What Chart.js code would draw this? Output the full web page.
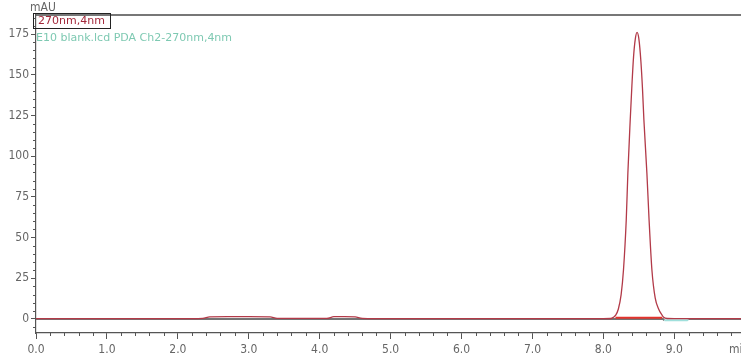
<!DOCTYPE html>
<html>
<head>
<meta charset="utf-8">
<title>PDA Ch2 270nm</title>
<script src="https://cdn.jsdelivr.net/npm/chart.js@4.4.1/dist/chart.umd.min.js"></script>
<style>
html,body{margin:0;padding:0;background:#fff;}
#wrap{width:741px;height:360px;position:relative;}
</style>
</head>
<body>
<div id="wrap"><canvas id="chrom"></canvas></div>
<script>
// ---------------------------------------
// Data
// ---------------------------------------

// sample trace, 270nm,4nm (min / mAU)
const redTime = [0, 1.0, 2.0, 2.35, 2.45, 2.7, 3.0, 3.3, 3.4, 4.1, 4.2, 4.35, 4.5, 4.6, 5.0, 6.0, 7.0, 7.5, 8.0, 8.1,
  8.14, 8.17, 8.21, 8.25, 8.283, 8.322, 8.345, 8.378, 8.402, 8.425, 8.45, 8.474, 8.5, 8.529, 8.551, 8.571,
  8.613, 8.644, 8.684, 8.73, 8.78, 8.825, 8.85, 8.9, 9.0, 9.5, 9.94];
const redAbs = [0.2, 0.2, 0.2, 0.4, 1.3, 1.4, 1.4, 1.3, 0.4, 0.4, 1.4, 1.5, 1.3, 0.4, 0.2, 0.2, 0.2, 0.2, 0.2, 0.3,
  1.0, 2.2, 6.0, 15.0, 30.1, 60.8, 89.7, 122.2, 143.5, 161.0, 172.0, 176.0, 172.0, 158.0, 141.5, 122.2,
  89.7, 60.8, 30.1, 13.0, 6.0, 2.5, 1.0, 0.3, 0.2, 0.2, 0.2];

// blank trace, E10 blank.lcd PDA Ch2-270nm,4nm
const blankTime = [0, 8.84, 8.86, 9.18, 9.2, 9.94];
const blankAbs = [0, 0, -0.8, -0.8, 0, 0];

// integration baseline under the peak
const baseTime = [8.17, 8.83];
const baseAbs = [0.8, 0.8];

const sampleName = "270nm,4nm";
const blankName = "E10 blank.lcd PDA Ch2-270nm,4nm";

const X_MIN = 0, X_MAX = 9.94;
const Y_MIN = -8.6, Y_MAX = 186.7;

const axisFont = "'Liberation Sans Narrow', 'DejaVu Sans Condensed', 'DejaVu Sans', sans-serif";

function toPoints(xs, ys){
    return xs.map((x, i) => ({x: x, y: ys[i]}));
}

// ---------------------------------------
// Decorations: minor ticks, frame, labels
// ---------------------------------------

const chromDecor = {
    id: "chromDecor",
    afterDraw(chart){
        const ctx = chart.ctx;
        const area = chart.chartArea;
        const xs = chart.scales.x;
        const ys = chart.scales.y;

        ctx.save();

        // top frame line
        ctx.strokeStyle = "#4a4a4a";
        ctx.lineWidth = 1.5;
        ctx.beginPath();
        ctx.moveTo(area.left, area.top);
        ctx.lineTo(area.right, area.top);
        ctx.stroke();

        // minor ticks
        ctx.strokeStyle = "#555";
        ctx.lineWidth = 1;
        ctx.beginPath();
        for(let v = -5; v <= 185; v += 5){
            if(v % 25 === 0) continue;
            const py = Math.round(ys.getPixelForValue(v)) + 0.5;
            ctx.moveTo(area.left - 3, py);
            ctx.lineTo(area.left, py);
        }
        for(let k = 1; k < 50; k++){
            if(k % 5 === 0) continue;
            const t = k / 5;
            if(t > X_MAX) break;
            const px = Math.round(xs.getPixelForValue(t)) + 0.5;
            ctx.moveTo(px, area.bottom);
            ctx.lineTo(px, area.bottom + 3);
        }
        ctx.stroke();

        // axis units
        ctx.fillStyle = "#666";
        ctx.font = "12px " + axisFont;
        ctx.textBaseline = "middle";
        ctx.textAlign = "left";
        ctx.fillText("mAU", 30, 8);
        ctx.fillText("min", xs.getPixelForValue(9.8) - 2, 350);

        // legend
        ctx.strokeStyle = "#222";
        ctx.lineWidth = 1;
        ctx.strokeRect(33.5, 13.5, 77, 15);
        ctx.font = "11px 'DejaVu Sans', sans-serif";
        ctx.fillStyle = "#a3283a";
        ctx.fillText(sampleName, 38, 21);
        ctx.fillStyle = "#7ec9b2";
        ctx.fillText(blankName, 36, 38);

        ctx.restore();
    }
};

// ---------------------------------------
// Chart
// ---------------------------------------

new Chart(document.getElementById("chrom"), {
    type: "line",
    data: {
        datasets: [
            {
                label: sampleName,
                data: toPoints(redTime, redAbs),
                borderColor: "#b23a48",
                borderWidth: 1.3,
                pointRadius: 0,
                cubicInterpolationMode: "monotone",
                order: 1
            },
            {
                label: "baseline",
                data: toPoints(baseTime, baseAbs),
                borderColor: "#e2332c",
                borderWidth: 2,
                pointRadius: 0,
                order: 0
            },
            {
                label: blankName,
                data: toPoints(blankTime, blankAbs),
                borderColor: "#757575",
                borderWidth: 2,
                pointRadius: 0,
                segment: {
                    borderColor: c => (c.p0.parsed.x > 8.85 && c.p0.parsed.x < 9.19) ? "#9fe0dc" : undefined
                },
                order: 2
            }
        ]
    },
    options: {
        responsive: true,
        maintainAspectRatio: false,
        animation: false,
        layout: {padding: {top: 15, right: 0, left: 0, bottom: 0}},
        plugins: {
            legend: {display: false},
            tooltip: {enabled: false}
        },
        scales: {
            x: {
                type: "linear",
                min: X_MIN,
                max: X_MAX,
                afterFit: s => { s.height = 27; },
                border: {color: "#555", width: 1.2},
                grid: {display: true, drawOnChartArea: false, drawTicks: true, tickLength: 6, color: "#555"},
                ticks: {
                    stepSize: 1,
                    includeBounds: false,
                    autoSkip: false,
                    maxRotation: 0,
                    padding: 4,
                    color: "#666",
                    font: {family: axisFont, size: 12},
                    callback: v => v.toFixed(1)
                }
            },
            y: {
                type: "linear",
                min: Y_MIN,
                max: Y_MAX,
                afterFit: s => { s.width = 36; },
                border: {color: "#555", width: 1.2},
                grid: {display: true, drawOnChartArea: false, drawTicks: true, tickLength: 5, color: "#555"},
                ticks: {
                    stepSize: 25,
                    includeBounds: false,
                    autoSkip: false,
                    padding: 2,
                    color: "#666",
                    font: {family: axisFont, size: 12},
                    callback: v => String(v)
                }
            }
        }
    },
    plugins: [chromDecor]
});
</script>
</body>
</html>
